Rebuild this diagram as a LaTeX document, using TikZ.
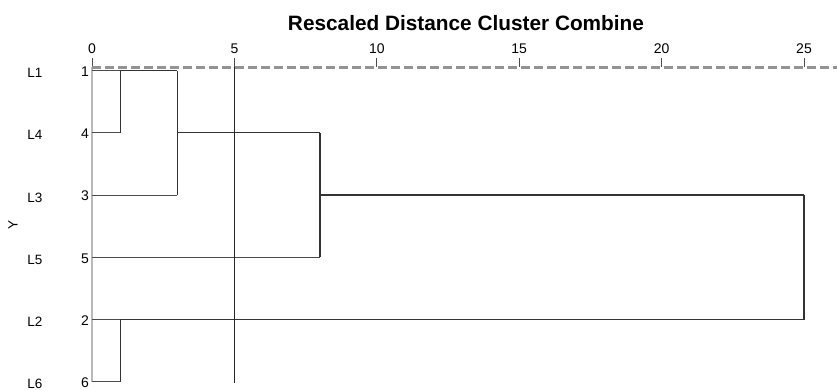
\documentclass[tikz,border=0pt]{standalone}
\usepackage{fontspec}
\setmainfont{Liberation Sans}
\usetikzlibrary{positioning}

\begin{document}
\begin{tikzpicture}[x=1pt,y=-1pt,
    lbl/.style={inner sep=0pt, anchor=base, font=\fontsize{13.5}{15}\selectfont},
    num/.style={inner sep=0pt, anchor=base east, font=\fontsize{14}{16}\selectfont},
    stub/.style={black!70, line width=0.9pt},
    link/.style={black!80, line width=1.4pt},
    ruler/.style={gray!85, line width=2.8pt, dash pattern=on 9pt off 4pt}]
  \useasboundingbox (0,0) rectangle (837,390);

  % title and scale
  \node[inner sep=0pt, anchor=base, font=\fontsize{20.8}{23}\selectfont\bfseries] (title) at (466,31) {Rescaled Distance Cluster Combine};
  \foreach \t in {0,5,...,25} {
    \node[lbl, font=\fontsize{14}{16}\selectfont] (tick\t) at (92+28.48*\t,54) {\t};
    \draw[black!70, line width=1pt] (92+28.48*\t,58) -- (92+28.48*\t,67.5);
  }

  % leaves
  \foreach \lab/\num/\y in {L1/1/70.6, L4/4/132.8, L3/3/195, L5/5/257.2, L2/2/319.4, L6/6/381.6} {
    \node[lbl] (lab\num) at (35,\y+7) {\lab};
    \node[num] (n\num) at (89,\y+5.8) {\num};
    \coordinate (leaf\num) at (92,\y);
  }
  \node[lbl, anchor=center, rotate=90] (ylab) at (13,225) {Y};
  \draw[gray!55, line width=2pt] (92,67.5) -- (leaf6);

  % joins
  \coordinate (j14) at (120.5,70.6);
  \coordinate (j143) at (177.4,70.6);
  \coordinate (j1435) at (319.8,132.8);
  \coordinate (jall) at (804,195);
  \coordinate (j26) at (120.5,319.4);

  \draw[stub] (leaf1) -- (j14);
  \draw[stub] (leaf4) -- (leaf4 -| j14);
  \draw[link] (leaf4 -| j14) -- (j14) -- (j143);
  \draw[stub] (leaf3) -- (leaf3 -| j143);
  \draw[link] (leaf3 -| j143) -- (j143);
  \draw[link] (j143 |- leaf4) -- (j1435);
  \draw[stub] (leaf5) -- (leaf5 -| j1435);
  \draw[link] (leaf5 -| j1435) -- (j1435);
  \draw[link] (j1435 |- leaf3) -- (jall);
  \draw[stub] (leaf2) -- (j26);
  \draw[stub] (leaf6) -- (leaf6 -| j26);
  \draw[link] (leaf6 -| j26) -- (j26) -- (jall |- j26) -- (jall);

  % scale line and cut
  \draw[ruler] (92,67.5) -- (837,67.5);
  \draw[black!85, line width=1.3pt] (92+28.48*5,67) -- (92+28.48*5,383);
\end{tikzpicture}
\end{document}
